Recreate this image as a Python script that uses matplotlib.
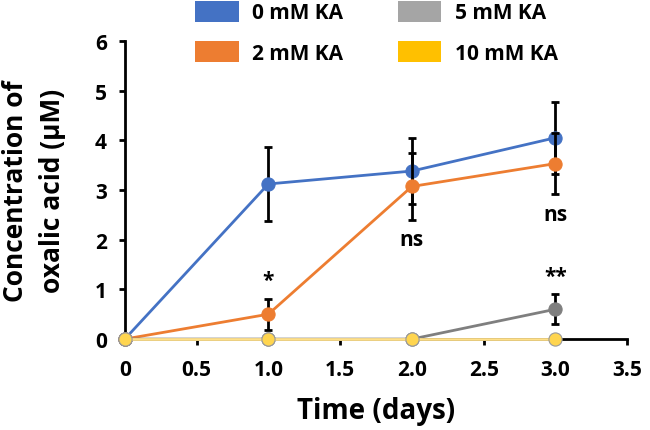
import matplotlib
matplotlib.use("Agg")
import matplotlib.pyplot as plt
from matplotlib.patches import Patch

plt.rcParams['font.family'] = ['Open Sans', 'DejaVu Sans']
plt.rcParams['font.weight'] = 'bold'

days = [0, 1.0, 2.0, 3.0]
labels = ["0 mM KA", "2 mM KA", "5 mM KA", "10 mM KA"]
ka0 = [0, 3.12, 3.38, 4.05]
ka0_err = [0, 0.75, 0.67, 0.72]
ka2 = [0, 0.50, 3.07, 3.53]
ka2_err = [0, 0.31, 0.67, 0.62]
ka5 = [0, 0, 0, 0.60]
ka5_err = [0, 0, 0, 0.30]
ka10 = [0, 0, 0, 0]
ka10_err = [0, 0, 0, 0]
sig_x = [1.0, 2.0, 3.0, 3.0]
sig_y = [1.17, 2.0, 2.5, 1.25]
sig_txt = ["*", "ns", "ns", "**"]
xticks = [0, 0.5, 1.0, 1.5, 2.0, 2.5, 3.0, 3.5]
xticklabels = ["0", "0.5", "1.0", "1.5", "2.0", "2.5", "3.0", "3.5"]
yticks = [0, 1, 2, 3, 4, 5, 6]

fig = plt.figure(figsize=(6.5, 4.31), dpi=100)
ax = fig.add_axes([0.192, 0.211, 0.773, 0.692])

series = [
    (ka0, ka0_err, '#4472C4', '#4472C4', '#4472C4'),
    (ka2, ka2_err, '#ED7D31', '#ED7D31', '#ED7D31'),
    (ka5, ka5_err, '#7F7F7F', '#7F7F7F', '#7F7F7F'),
    (ka10, ka10_err, '#FFE08A', '#FFD54F', '#9A9A9A'),
]
for i, (y, e, lc, mc, ec) in enumerate(series):
    ax.errorbar(days, y, yerr=e, fmt='none', ecolor='black', elinewidth=2,
                capsize=3, capthick=2, zorder=2 + i * 2)
    ax.plot(days, y, '-o', color=lc, lw=2, markersize=9.5, markerfacecolor=mc,
            markeredgecolor=ec, markeredgewidth=0.8, zorder=3 + i * 2, clip_on=False)

for x, y, t in zip(sig_x, sig_y, sig_txt):
    ax.text(x, y, t, ha='center', va='center', fontsize=15, fontweight='bold')

ax.set_xlim(0, 3.5)
ax.set_ylim(0, 6)
ax.set_xticks(xticks)
ax.set_xticklabels(xticklabels)
ax.set_yticks(yticks)
for s in ['top', 'right']:
    ax.spines[s].set_visible(False)
for s in ['left', 'bottom']:
    ax.spines[s].set_linewidth(2)
    ax.spines[s].set_color('black')
ax.tick_params(axis='both', width=2, length=4, labelsize=15)
ax.tick_params(axis='x', pad=10)
ax.tick_params(axis='y', pad=9)
for lbl in ax.get_xticklabels() + ax.get_yticklabels():
    lbl.set_fontweight('bold')

ax.set_xlabel("Time (days)", fontsize=20, fontweight='bold', labelpad=12)
ax.set_ylabel("Concentration of\noxalic acid (μM)", fontsize=19, fontweight='bold',
              labelpad=21, linespacing=1.45)

leg_colors = ['#4472C4', '#ED7D31', '#A5A5A5', '#FFC000']
handles = [Patch(facecolor=c, edgecolor='none') for c in leg_colors]
fig.legend(handles, labels, ncol=2, loc='upper left', bbox_to_anchor=(193 / 650, 1.0),
           frameon=False, prop={'weight': 'bold', 'size': 15}, borderpad=0.1,
           borderaxespad=0, handlelength=2.1, handleheight=1.15, columnspacing=2.6,
           handletextpad=0.65, labelspacing=0.85)

fig.savefig("out.png", dpi=100)
